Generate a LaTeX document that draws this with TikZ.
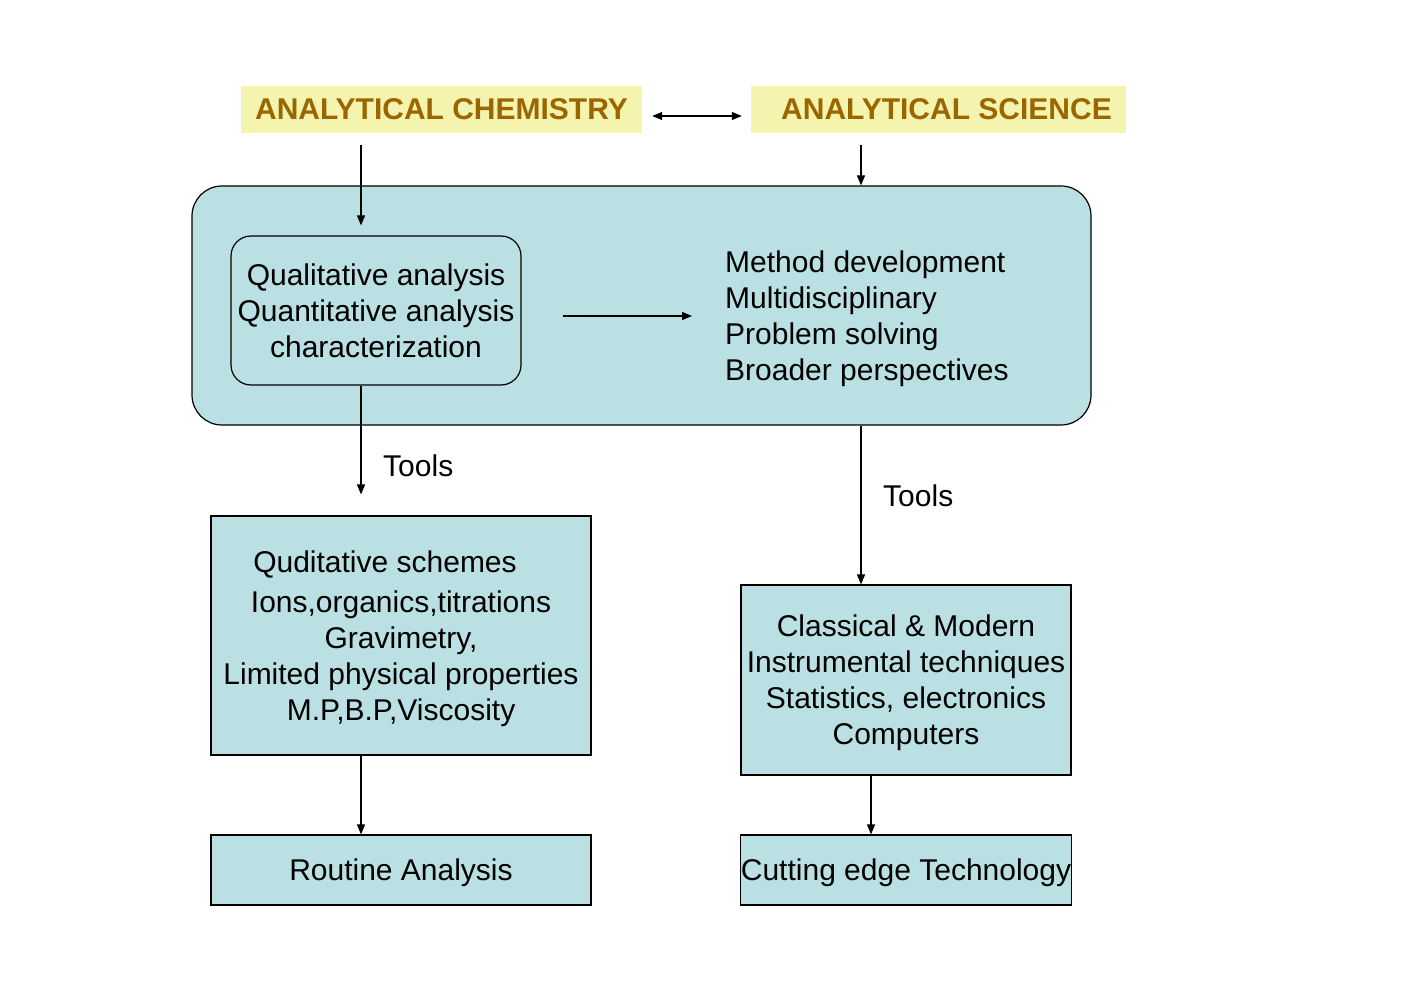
\documentclass[tikz,border=0pt]{standalone}
\usepackage{fontspec}
\setmainfont{Liberation Sans}
\usetikzlibrary{arrows.meta}
\definecolor{boxblue}{RGB}{186,224,227}
\definecolor{hiyel}{RGB}{244,244,174}
\definecolor{hibrown}{RGB}{155,102,0}
\begin{document}
\begin{tikzpicture}[x=1pt,y=-1pt,
  every node/.style={font=\fontsize{30}{36}\selectfont},
  arr/.style={-{Triangle[length=10pt,width=8pt]}, line width=1.2pt},
  ybox/.style={fill=hiyel, text=hibrown, font=\fontsize{30}{36}\selectfont\bfseries, inner sep=0pt, minimum height=47pt},
  bluebox/.style={draw, fill=boxblue, line width=1.2pt, inner sep=0pt, align=center, text depth=0pt},
  plain/.style={inner sep=0pt}
]
\useasboundingbox (0,0) rectangle (1403,992);
\coordinate (lx) at (361,0);
\coordinate (rx) at (861,0);
\coordinate (rx2) at (871,0);
% header boxes
\node[ybox, minimum width=401pt] (ac) at (441.5,109.5) {ANALYTICAL CHEMISTRY};
\node[ybox, minimum width=375pt] (as) at (938.5,109.5) {\hspace*{16pt}ANALYTICAL SCIENCE};
% big rounded box
\node[bluebox, rounded corners=30pt, minimum width=899pt, minimum height=239pt] (big) at (641.5,305.5) {};
\node[bluebox, rounded corners=20pt, minimum width=290pt, minimum height=149pt] (q) at (376,310.5)
  {Qualitative analysis\\Quantitative analysis\\characterization};
\node[plain, anchor=west, align=left, text depth=0pt] (m) at (725,316)
  {Method development\\Multidisciplinary\\Problem solving\\Broader perspectives};
% lower boxes
\node[bluebox, minimum width=380pt, minimum height=239pt] (l1) at (401,635.5)
  {Quditative schemes\hspace*{32pt}\\[4pt]Ions,organics,titrations\\Gravimetry,\\Limited physical properties\\M.P,B.P,Viscosity};
\node[bluebox, minimum width=380pt, minimum height=70pt] (l2) at (401,870) {Routine Analysis};
\node[bluebox, minimum width=330pt, minimum height=190pt] (r1) at (906,680)
  {Classical \& Modern\\Instrumental techniques\\Statistics, electronics\\Computers};
\node[bluebox, minimum width=330pt, minimum height=70pt] (r2) at (906,870) {Cutting edge Technology};
% labels
\node[plain, anchor=west] (t1) at (383,466) {Tools};
\node[plain, anchor=west] (t2) at (883,496) {Tools};
% connectors
\draw[{Triangle[length=10pt,width=8pt]}-{Triangle[length=10pt,width=8pt]}, line width=1.2pt, shorten <=10pt, shorten >=9pt]
  ([yshift=-6.5pt]ac.east) -- ([yshift=-6.5pt]as.west);
\draw[arr, shorten <=12pt, shorten >=10pt] (ac.south -| lx) -- (q.north -| lx);
\draw[arr, shorten <=12pt] (as.south -| rx) -- (big.north -| rx);
\draw[arr, shorten <=41pt, shorten >=33pt] (q.east |- m.west) -- (m.west);
\draw[arr, shorten >=21pt] (q.south -| lx) -- (l1.north -| lx);
\draw[arr] (big.south -| rx) -- (r1.north -| rx);
\draw[arr] (l1.south -| lx) -- (l2.north -| lx);
\draw[arr] (r1.south -| rx2) -- (r2.north -| rx2);
\end{tikzpicture}
\end{document}
